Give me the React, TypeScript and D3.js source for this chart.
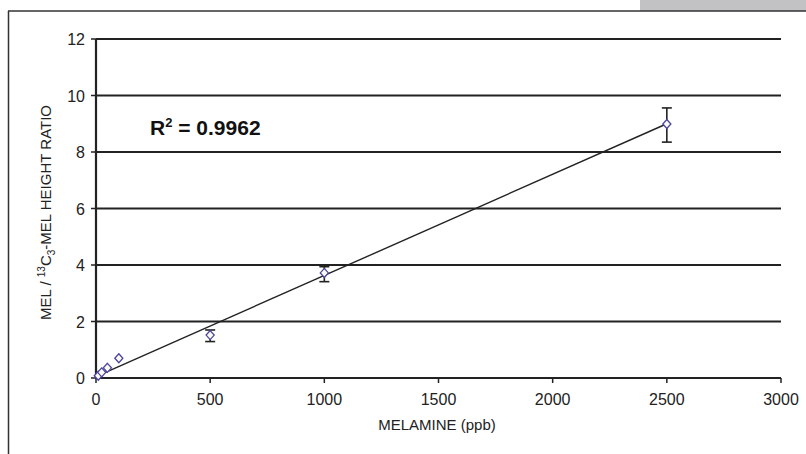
import React from 'react';
import * as d3 from 'd3';

// calibration data
const concentrations = [10, 25, 50, 100, 500, 1000, 2500];
const ratios = [0.08, 0.2, 0.36, 0.7, 1.52, 3.72, 8.99];
const errLow = [0.08, 0.2, 0.36, 0.7, 1.29, 3.41, 8.35];
const errHigh = [0.08, 0.2, 0.36, 0.7, 1.7, 3.94, 9.56];

const fitSlope = 0.00358;
const fitIntercept = 0.05;
const fitRange = [0, 2500];

const xTicks = [0, 500, 1000, 1500, 2000, 2500, 3000];
const yTicks = [0, 2, 4, 6, 8, 10, 12];

export default function App() {
  const width = 806;
  const height = 454;
  const font = "'Liberation Sans', Arial, Helvetica, sans-serif";

  const x = d3.scaleLinear().domain([0, 3000]).range([96, 781]);
  const y = d3.scaleLinear().domain([0, 12]).range([378, 39]);

  const fitLine = d3.line<number>()
    .x(d => x(d))
    .y(d => y(fitSlope * d + fitIntercept));

  const diamond = (cx: number, cy: number, r: number) =>
    `M${cx},${cy - r}L${cx + r * 0.9},${cy}L${cx},${cy + r}L${cx - r * 0.9},${cy}Z`;

  return (
    <svg width={width} height={height}
      style={{ position: 'absolute', left: 0, top: 0, background: '#fff' }}>
      {/* page frame */}
      <rect x={640} y={0} width={166} height={11} fill="#c2c2c4" />
      <line x1={8} y1={11} x2={806} y2={11} stroke="#333" strokeWidth={1.5} />
      <line x1={8.5} y1={11} x2={8.5} y2={454} stroke="#333" strokeWidth={1.5} />

      {/* gridlines */}
      {yTicks.filter(t => t > 0).map(t => (
        <line key={'g' + t} x1={x(0)} x2={x(3000)} y1={y(t)} y2={y(t)}
          stroke="#222" strokeWidth={2.2} />
      ))}

      {/* axes */}
      <line x1={x(0)} x2={x(3000)} y1={y(0)} y2={y(0)} stroke="#222" strokeWidth={2.2} />
      <line x1={x(0)} x2={x(0)} y1={y(0)} y2={y(12)} stroke="#222" strokeWidth={2.2} />
      {xTicks.map(t => (
        <g key={'x' + t}>
          <line x1={x(t)} x2={x(t)} y1={y(0)} y2={y(0) + 5} stroke="#222" strokeWidth={1.5} />
          <text x={x(t)} y={y(0) + 27} textAnchor="middle" fontFamily={font}
            fontSize={16} fill="#222">{t}</text>
        </g>
      ))}
      {yTicks.map(t => (
        <g key={'y' + t}>
          <line x1={x(0) - 5} x2={x(0)} y1={y(t)} y2={y(t)} stroke="#222" strokeWidth={1.5} />
          <text x={x(0) - 11} y={y(t) + 6} textAnchor="end" fontFamily={font}
            fontSize={16} fill="#222">{t}</text>
        </g>
      ))}

      {/* axis titles */}
      <text x={437} y={430} textAnchor="middle" fontFamily={font} fontSize={15} fill="#222">
        MELAMINE (ppb)
      </text>
      <text transform={`translate(51,${(y(0) + y(12)) / 2 + 4}) rotate(-90)`} textAnchor="middle"
        fontFamily={font} fontSize={15} fill="#222">
        MEL / <tspan fontSize={10} dy={-6}>13</tspan><tspan dy={6}>C</tspan>
        <tspan fontSize={10} dy={4}>3</tspan><tspan dy={-4}>-MEL HEIGHT RATIO</tspan>
      </text>

      {/* R squared annotation */}
      <text x={150} y={135} fontFamily={font} fontSize={21} fontWeight="bold" fill="#111">
        R<tspan fontSize={13} dy={-8}>2</tspan><tspan dy={8}> = 0.9962</tspan>
      </text>

      {/* regression line */}
      <path d={fitLine(fitRange) || ''} fill="none" stroke="#222" strokeWidth={1.4} />

      {/* error bars */}
      {concentrations.map((c, i) => errHigh[i] - errLow[i] > 0.05 ? (
        <g key={'e' + c} stroke="#222" strokeWidth={1.6}>
          <line x1={x(c)} x2={x(c)} y1={y(errLow[i])} y2={y(errHigh[i])} />
          <line x1={x(c) - 5} x2={x(c) + 5} y1={y(errLow[i])} y2={y(errLow[i])} />
          <line x1={x(c) - 5} x2={x(c) + 5} y1={y(errHigh[i])} y2={y(errHigh[i])} />
        </g>
      ) : null)}

      {/* points */}
      {concentrations.map((c, i) => (
        <path key={'p' + c} d={diamond(x(c), y(ratios[i]), 4.5)}
          fill="#fbfbee" stroke="#4b45a0" strokeWidth={1.3} />
      ))}
    </svg>
  );
}
